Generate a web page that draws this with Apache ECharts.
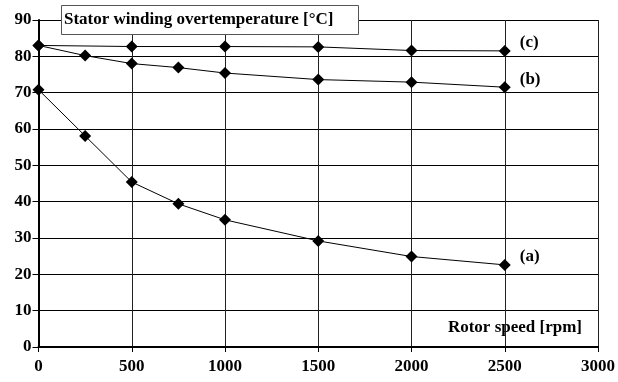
<!DOCTYPE html>
<html>
<head>
<meta charset="utf-8">
<script src="https://cdn.jsdelivr.net/npm/echarts@6/dist/echarts.min.js"></script>
<style>
  html, body { margin: 0; padding: 0; background: #fff; }
  #chart { width: 618px; height: 382px; }
</style>
</head>
<body>
<div id="chart"></div>
<script>
// rotor speed [rpm]
var speedAB = [0, 250, 500, 750, 1000, 1500, 2000, 2500];
var speedC = [0, 500, 1000, 1500, 2000, 2500];
// stator winding overtemperature [°C]
var tempA = [70.8, 58.1, 45.4, 39.4, 35.0, 29.2, 24.9, 22.6];
var tempB = [83.0, 80.2, 78.0, 76.9, 75.4, 73.6, 72.9, 71.5];
var tempC = [83.0, 82.7, 82.7, 82.6, 81.6, 81.5];
var seriesLabels = ['(a)', '(b)', '(c)'];

var FONT = '"Liberation Serif", "Times New Roman", serif';

function pairs(xs, ys) {
    return xs.map(function (x, i) { return [x, ys[i]]; });
}

function makeSeries(name, data) {
    return {
        name: name,
        type: 'line',
        data: data,
        symbol: 'diamond',
        symbolSize: 12,
        color: '#000',
        lineStyle: { color: '#000', width: 1 },
        itemStyle: { color: '#000' },
        emphasis: { disabled: true },
        endLabel: {
            show: true,
            formatter: name,
            distance: 15,
            offset: [0, -8],
            color: '#000',
            fontFamily: FONT,
            fontWeight: 'bold',
            fontSize: 17
        },
        animation: false
    };
}

var myChart = echarts.init(document.getElementById('chart'));
myChart.setOption({
    backgroundColor: '#fff',
    animation: false,
    grid: {
        left: 38.5,
        right: 17,
        top: 20,
        bottom: 35,
        containLabel: false
    },
    xAxis: {
        type: 'value',
        min: 0,
        max: 3000,
        interval: 500,
        axisLine: { show: true, lineStyle: { color: '#000', width: 2 } },
        axisTick: { show: true, length: 5, lineStyle: { color: '#000', width: 1 } },
        axisLabel: {
            color: '#000',
            fontFamily: FONT,
            fontWeight: 'bold',
            fontSize: 17,
            margin: 11,
            formatter: function (v) { return String(v); }
        },
        splitLine: { show: true, lineStyle: { color: '#222', width: 1 } }
    },
    yAxis: {
        type: 'value',
        min: 0,
        max: 90,
        interval: 10,
        axisLine: { show: true, lineStyle: { color: '#000', width: 2 } },
        axisTick: { show: true, length: 6, lineStyle: { color: '#000', width: 1 } },
        axisLabel: {
            color: '#000',
            fontFamily: FONT,
            fontWeight: 'bold',
            fontSize: 17,
            margin: 7
        },
        splitLine: { show: true, lineStyle: { color: '#000', width: 1 } }
    },
    title: {
        text: 'Stator winding overtemperature [°C]',
        left: 61,
        top: 5,
        padding: [6, 25, 7, 3],
        backgroundColor: '#fff',
        borderColor: '#555',
        borderWidth: 1,
        textStyle: {
            color: '#000',
            fontFamily: FONT,
            fontWeight: 'bold',
            fontSize: 17
        }
    },
    graphic: [{
        type: 'text',
        right: 36,
        top: 319,
        style: {
            text: 'Rotor speed [rpm]',
            fill: '#000',
            font: 'bold 17px ' + FONT
        }
    }],
    series: [
        makeSeries(seriesLabels[0], pairs(speedAB, tempA)),
        makeSeries(seriesLabels[1], pairs(speedAB, tempB)),
        makeSeries(seriesLabels[2], pairs(speedC, tempC))
    ]
});
</script>
</body>
</html>
